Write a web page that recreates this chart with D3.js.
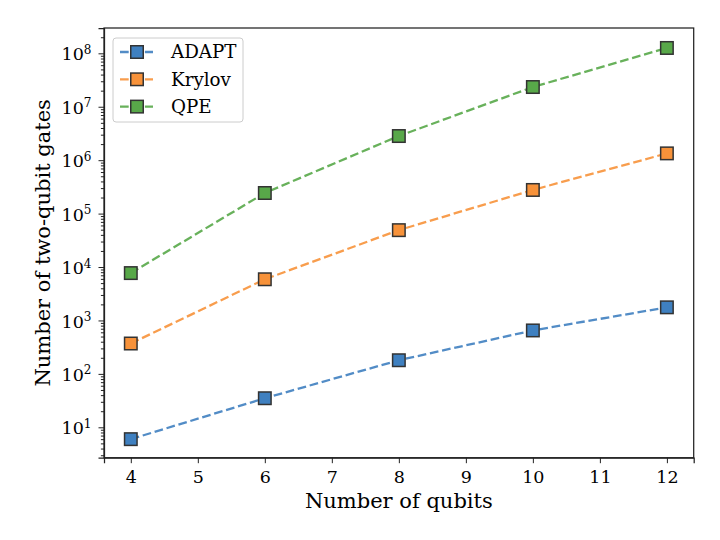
<!DOCTYPE html>
<html><head><meta charset="utf-8">
<script src="https://cdn.jsdelivr.net/npm/d3@7"></script>
<style>body{margin:0;background:#fff}svg{display:block}</style>
</head><body>
<script>
const qubits = [4, 6, 8, 10, 12];
const adapt = [6, 35, 180, 650, 1760];
const krylov = [370, 5900, 49000, 277000, 1340000];
const qpe = [7700, 243000, 2830000, 23400000, 126000000];
const seriesNames = ["ADAPT", "Krylov", "QPE"];
const seriesColors = ["#3f80c0", "#f7923a", "#58a849"];
const xTicks = [4, 5, 6, 7, 8, 9, 10, 11, 12];
const yTickExps = [1, 2, 3, 4, 5, 6, 7, 8];
const xLabel = "Number of qubits";
const yLabel = "Number of two-qubit gates";

const series = [adapt, krylov, qpe];
const W = 720, H = 540;
const m = {l: 104, r: 26.3, t: 28, b: 82.3};
const font = "'DejaVu Serif', serif";
const tickFs = 17.5;
const svg = d3.select("body").append("svg").attr("width", W).attr("height", H);

const x = d3.scaleLinear().domain([3.6, 12.4]).range([m.l, W - m.r]);
const y = d3.scaleLog().domain([Math.pow(10, 0.431), Math.pow(10, 8.474)]).range([H - m.b, m.t]);

const g = svg.append("g");

// x axis
const xa = g.append("g").attr("transform", `translate(0,${H - m.b})`)
  .call(d3.axisBottom(x).tickValues(xTicks).tickFormat(d3.format("d")).tickSize(5.5).tickPadding(7.5));
xa.style("font-family", font).style("font-size", tickFs + "px");
xa.selectAll("text").style("font-family", font).style("font-size", tickFs + "px").attr("fill", "#000");

// y minor
const minors = [];
for (let e = 0; e <= 8; e++) for (let k = 2; k <= 9; k++) {
  const v = k * Math.pow(10, e);
  if (v >= y.domain()[0] && v <= y.domain()[1]) minors.push(v);
}
g.append("g").attr("transform", `translate(${m.l},0)`)
  .call(d3.axisLeft(y).tickValues(minors).tickFormat("").tickSize(3.1))
  .call(s => s.select(".domain").remove());

const ya = g.append("g").attr("transform", `translate(${m.l},0)`)
  .call(d3.axisLeft(y).tickValues(yTickExps.map(e => Math.pow(10, e))).tickFormat("").tickSize(5.5));
ya.style("font-family", font).style("font-size", tickFs + "px");
ya.selectAll(".tick").each(function(d, i) {
  const t = d3.select(this).append("text")
    .attr("x", -12.5).attr("dy", "0.38em").attr("text-anchor", "end")
    .style("font-family", font).style("font-size", tickFs + "px").attr("fill", "#000");
  t.append("tspan").text("10");
  t.append("tspan").attr("dy", "-0.55em").style("font-size", "12px").text(String(yTickExps[i]));
});

g.selectAll(".domain").attr("stroke", "#222").attr("stroke-width", 1.25);
g.selectAll(".tick line").attr("stroke", "#222").attr("stroke-width", 1);

// frame
g.append("rect").attr("x", m.l).attr("y", m.t).attr("width", W - m.r - m.l).attr("height", H - m.b - m.t)
  .attr("fill", "none").attr("stroke", "#222").attr("stroke-width", 1.25);

// lines
const line = d3.line().x((d, i) => x(qubits[i])).y(d => y(d));
series.forEach((s, si) => {
  g.append("path").datum(s).attr("d", line).attr("fill", "none")
    .attr("stroke", seriesColors[si]).attr("stroke-opacity", 0.9).attr("stroke-width", 2.3).attr("stroke-dasharray", "8.7,3.75");
});
const ms = 12.5;
series.forEach((s, si) => {
  g.selectAll(null).data(s).enter().append("rect")
    .attr("x", (d, i) => x(qubits[i]) - ms / 2).attr("y", d => y(d) - ms / 2)
    .attr("width", ms).attr("height", ms)
    .attr("fill", seriesColors[si]).attr("stroke", "#333").attr("stroke-width", 1.5);
});

// legend
const lg = svg.append("g");
lg.append("rect").attr("x", 113).attr("y", 38).attr("width", 130).attr("height", 84).attr("rx", 3)
  .attr("fill", "#fff").attr("fill-opacity", 0.8).attr("stroke", "#ccc").attr("stroke-width", 1);
seriesNames.forEach((n, i) => {
  const cy = 52 + i * 27.3;
  lg.append("line").attr("x1", 120).attr("x2", 153).attr("y1", cy).attr("y2", cy)
    .attr("stroke", seriesColors[i]).attr("stroke-opacity", 0.9).attr("stroke-width", 2.3).attr("stroke-dasharray", "8.7,3.75");
  lg.append("rect").attr("x", 137 - ms / 2).attr("y", cy - ms / 2).attr("width", ms).attr("height", ms)
    .attr("fill", seriesColors[i]).attr("stroke", "#333").attr("stroke-width", 1.5);
  lg.append("text").attr("x", 171).attr("y", cy).attr("dy", "0.35em")
    .style("font-family", font).style("font-size", "18.3px").attr("fill", "#000").text(n);
});

// axis labels
svg.append("text").attr("x", (m.l + W - m.r) / 2).attr("y", 508).attr("text-anchor", "middle")
  .style("font-family", font).style("font-size", "21px").attr("fill", "#000").text(xLabel);
svg.append("text").attr("transform", `translate(50,${(m.t + H - m.b) / 2}) rotate(-90)`)
  .attr("text-anchor", "middle").style("font-family", font).style("font-size", "21px").attr("fill", "#000").text(yLabel);
</script>
</body></html>
